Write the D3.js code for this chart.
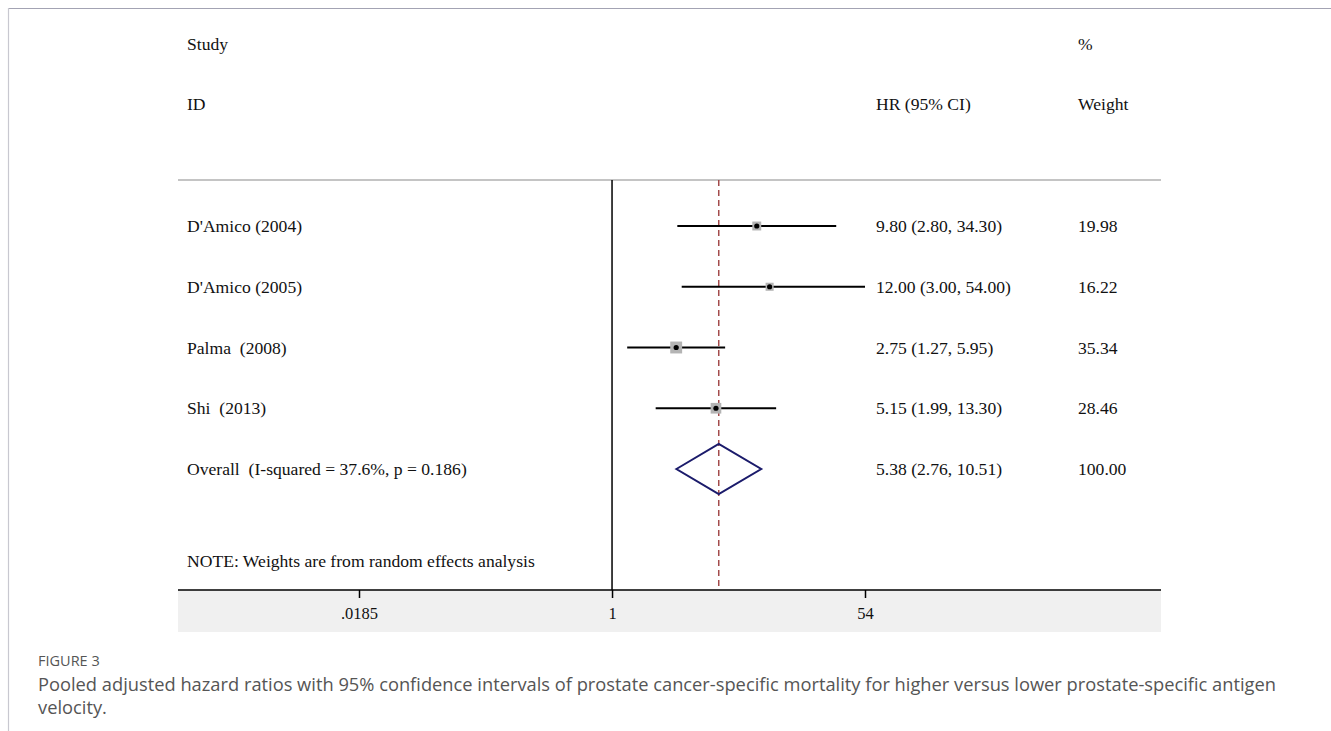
<!DOCTYPE html>
<html><head><meta charset="utf-8">
<script src="https://cdn.jsdelivr.net/npm/d3@7"></script>
<style>html,body{margin:0;padding:0;background:#fff;}svg{display:block;}text{white-space:pre;}</style>
</head><body>
<svg id="chart" width="1331" height="731"></svg>
<script>
const studies = ["D'Amico (2004)", "D'Amico (2005)", "Palma  (2008)", "Shi  (2013)"];
const hr = [9.80, 12.00, 2.75, 5.15];
const lower = [2.80, 3.00, 1.27, 1.99];
const upper = [34.30, 54.00, 5.95, 13.30];
const weights = [19.98, 16.22, 35.34, 28.46];
const overallLabel = "Overall  (I-squared = 37.6%, p = 0.186)";
const overall = {hr: 5.38, lo: 2.76, hi: 10.51, w: 100.00};
const tickValues = [0.0185, 1, 54];
const tickLabels = [".0185", "1", "54"];
const note = "NOTE: Weights are from random effects analysis";

const svg = d3.select("#chart");
const serif = "'Liberation Serif', 'Times New Roman', serif";
const fs = 17.6;

// outer frame
svg.append("line").attr("x1",8).attr("x2",1331).attr("y1",8.5).attr("y2",8.5).attr("stroke","#a3a3b3").attr("stroke-width",1.2);
svg.append("line").attr("x1",8.5).attr("x2",8.5).attr("y1",8).attr("y2",731).attr("stroke","#c8c8d0").attr("stroke-width",1.2);

const x = d3.scaleLog().domain([0.0185, 54]).range([359, 865]);
const rowY = d3.scalePoint().domain(d3.range(5)).range([226, 469]);
const plotTop = 180, axisY = 590, left = 178, right = 1161;

// bottom gray band
svg.append("rect").attr("x",left).attr("y",axisY).attr("width",right-left).attr("height",632-axisY).attr("fill","#f0f0f0");
// separator
svg.append("line").attr("x1",left).attr("x2",right).attr("y1",plotTop).attr("y2",plotTop).attr("stroke","#c4c4c4").attr("stroke-width",2);

// headers
const hdr = svg.append("g").attr("font-family",serif).attr("font-size",fs).attr("fill","#111");
hdr.append("text").attr("x",187).attr("y",50).text("Study");
hdr.append("text").attr("x",187).attr("y",110).text("ID");
hdr.append("text").attr("x",876).attr("y",110).text("HR (95% CI)");
hdr.append("text").attr("x",1078).attr("y",50).text("%");
hdr.append("text").attr("x",1078).attr("y",110).text("Weight");

// null line
svg.append("line").attr("x1",x(1)).attr("x2",x(1)).attr("y1",plotTop).attr("y2",axisY).attr("stroke","#000").attr("stroke-width",1.5);
// overall dashed line
svg.append("line").attr("x1",x(overall.hr)).attr("x2",x(overall.hr)).attr("y1",plotTop).attr("y2",axisY)
  .attr("stroke","#a34a4a").attr("stroke-width",1.5).attr("stroke-dasharray","6,4");

// axis
const axis = d3.axisBottom(x).tickValues(tickValues).tickFormat((d,i)=>tickLabels[i]).tickSize(8).tickSizeOuter(0);
const ag = svg.append("g").attr("transform",`translate(0,${axisY})`).call(axis);
ag.select(".domain").remove();
ag.selectAll(".tick line").attr("stroke","#000").attr("stroke-width",1.5);
ag.selectAll(".tick text").attr("font-family",serif).attr("font-size",16.5).attr("fill","#111").attr("dy","1.1em");
svg.append("line").attr("x1",left).attr("x2",right).attr("y1",axisY).attr("y2",axisY).attr("stroke","#000").attr("stroke-width",1.5);

// studies
const g = svg.append("g");
studies.forEach((s,i)=>{
  const y = rowY(i);
  g.append("line").attr("x1",x(lower[i])).attr("x2",x(upper[i])).attr("y1",y).attr("y2",y).attr("stroke","#000").attr("stroke-width",2.2);
  const side = 2.0*Math.sqrt(weights[i]);
  g.append("rect").attr("x",x(hr[i])-side/2).attr("y",y-side/2).attr("width",side).attr("height",side).attr("fill","#b4b4b4");
  g.append("circle").attr("cx",x(hr[i])).attr("cy",y).attr("r",2.6).attr("fill","#000");
  g.append("text").attr("x",187).attr("y",y+6).attr("font-family",serif).attr("font-size",fs).attr("fill","#111").text(s);
  g.append("text").attr("x",876).attr("y",y+6).attr("font-family",serif).attr("font-size",fs).attr("fill","#111")
    .text(`${hr[i].toFixed(2)} (${lower[i].toFixed(2)}, ${upper[i].toFixed(2)})`);
  g.append("text").attr("x",1078).attr("y",y+6).attr("font-family",serif).attr("font-size",fs).attr("fill","#111").text(weights[i].toFixed(2));
});

// overall diamond
const oy = rowY(4);
g.append("polygon").attr("points",[[x(overall.lo),oy],[x(overall.hr),oy-25],[x(overall.hi),oy],[x(overall.hr),oy+25]].map(p=>p.join(",")).join(" "))
  .attr("fill","none").attr("stroke","#1b1b6b").attr("stroke-width",2);
g.append("text").attr("x",187).attr("y",oy+6).attr("font-family",serif).attr("font-size",fs).attr("fill","#111").text(overallLabel);
g.append("text").attr("x",876).attr("y",oy+6).attr("font-family",serif).attr("font-size",fs).attr("fill","#111")
  .text(`${overall.hr.toFixed(2)} (${overall.lo.toFixed(2)}, ${overall.hi.toFixed(2)})`);
g.append("text").attr("x",1078).attr("y",oy+6).attr("font-family",serif).attr("font-size",fs).attr("fill","#111").text(overall.w.toFixed(2));

// note
svg.append("text").attr("x",187).attr("y",567).attr("font-family",serif).attr("font-size",fs).attr("fill","#111").text(note);

// caption
const sans = "'Open Sans', Lato, sans-serif";
svg.append("text").attr("x",38).attr("y",666).attr("font-family",sans).attr("font-size",14.5).attr("fill","#555").text("FIGURE 3");
svg.append("text").attr("x",38).attr("y",691).attr("font-family",sans).attr("font-size",18.3).attr("fill","#555")
  .text("Pooled adjusted hazard ratios with 95% confidence intervals of prostate cancer-specific mortality for higher versus lower prostate-specific antigen");
svg.append("text").attr("x",38).attr("y",714).attr("font-family",sans).attr("font-size",18.3).attr("fill","#555").text("velocity.");
</script>
</body></html>
